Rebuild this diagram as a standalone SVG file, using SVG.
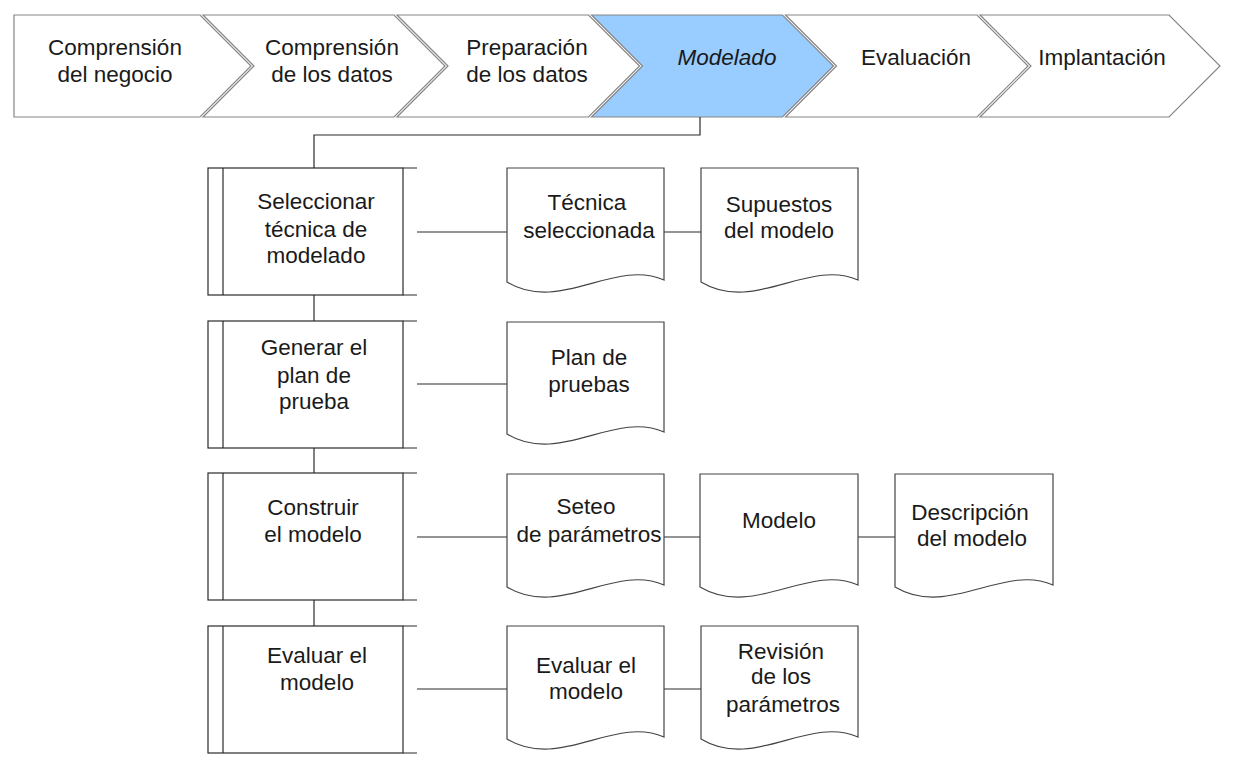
<svg xmlns="http://www.w3.org/2000/svg" width="1238" height="764" viewBox="0 0 1238 764">
<style>
  text { font-family: "Liberation Sans", Arial, sans-serif; font-size: 22.5px; fill: #1a1a1a; text-anchor: middle; }
  .chev { fill: #ffffff; stroke: #858585; stroke-width: 1.2; }
  .chev.active { fill: #99ccff; }
  .proc { fill: #ffffff; stroke: #2a2a2a; stroke-width: 1.2; }
  .doc { fill: #ffffff; stroke: #444444; stroke-width: 1.2; }
  .conn { fill: none; stroke: #2a2a2a; stroke-width: 1.2; }
  .it { font-style: italic; }
</style>
<rect x="0" y="0" width="1238" height="764" fill="#ffffff"/>

<!-- Phase chevrons -->
<g id="phase-comprension-negocio">
  <path class="chev" d="M14,15 H200 L251,66 L200,117 H14 Z"/>
  <text x="115" y="55">Comprensión</text>
  <text x="115" y="82">del negocio</text>
</g>
<g id="phase-comprension-datos">
  <path class="chev" d="M203,15 H394 L445,66 L394,117 H203 L254,66 Z"/>
  <text x="332" y="55">Comprensión</text>
  <text x="332" y="82">de los datos</text>
</g>
<g id="phase-preparacion">
  <path class="chev" d="M397,15 H588.5 L639.5,66 L588.5,117 H397 L448,66 Z"/>
  <text x="527" y="55">Preparación</text>
  <text x="527" y="82">de los datos</text>
</g>
<g id="phase-modelado">
  <path class="chev active" d="M591.5,15 H782.5 L833.5,66 L782.5,117 H591.5 L642.5,66 Z"/>
  <text class="it" x="727" y="65">Modelado</text>
</g>
<g id="phase-evaluacion">
  <path class="chev" d="M785.5,15 H977 L1028,66 L977,117 H785.5 L836.5,66 Z"/>
  <text x="916" y="65">Evaluación</text>
</g>
<g id="phase-implantacion">
  <path class="chev" d="M980,15 H1169 L1220,66 L1169,117 H980 L1031,66 Z"/>
  <text x="1102" y="65">Implantación</text>
</g>

<!-- Connectors -->
<g id="connectors">
  <path class="conn" d="M700,117 V135 H314 V168"/>
  <path class="conn" d="M314,295 V321"/>
  <path class="conn" d="M314,448 V473"/>
  <path class="conn" d="M314,600 V626"/>
  <path class="conn" d="M417,232 H507"/>
  <path class="conn" d="M664,232 H701"/>
  <path class="conn" d="M417,384 H507"/>
  <path class="conn" d="M417,537 H507"/>
  <path class="conn" d="M664,537 H700"/>
  <path class="conn" d="M858,537 H895"/>
  <path class="conn" d="M417,689 H507"/>
  <path class="conn" d="M664,689 H701"/>
</g>

<!-- Tasks (predefined process) -->
<g id="task-seleccionar">
  <rect class="proc" x="208" y="168" width="195" height="127"/>
  <path class="proc" d="M223,168 V295 M403,168 H417 M403,295 H417"/>
  <text x="316" y="209">Seleccionar</text>
  <text x="316" y="237">técnica de</text>
  <text x="316" y="263">modelado</text>
</g>
<g id="task-generar">
  <rect class="proc" x="208" y="321" width="195" height="127"/>
  <path class="proc" d="M223,321 V448 M403,321 H417 M403,448 H417"/>
  <text x="314" y="355">Generar el</text>
  <text x="314" y="383">plan de</text>
  <text x="314" y="409">prueba</text>
</g>
<g id="task-construir">
  <rect class="proc" x="208" y="473" width="195" height="127"/>
  <path class="proc" d="M223,473 V600 M403,473 H417 M403,600 H417"/>
  <text x="313" y="515">Construir</text>
  <text x="313" y="542">el modelo</text>
</g>
<g id="task-evaluar">
  <rect class="proc" x="208" y="626" width="195" height="127"/>
  <path class="proc" d="M223,626 V753 M403,626 H417 M403,753 H417"/>
  <text x="317" y="663">Evaluar el</text>
  <text x="317" y="690">modelo</text>
</g>

<!-- Documents -->
<g id="doc-tecnica">
  <path class="doc" d="M507,168 H664 V280 C614,258 560,314 507,282 Z"/>
  <text x="587" y="210">Técnica</text>
  <text x="589" y="238">seleccionada</text>
</g>
<g id="doc-supuestos">
  <path class="doc" d="M701,168 H858 V280 C808,258 754,314 701,282 Z"/>
  <text x="779" y="212">Supuestos</text>
  <text x="779" y="238">del modelo</text>
</g>
<g id="doc-plan">
  <path class="doc" d="M507,322 H664 V432 C614,410 560,466 507,434 Z"/>
  <text x="589" y="365">Plan de</text>
  <text x="589" y="392">pruebas</text>
</g>
<g id="doc-seteo">
  <path class="doc" d="M507,474 H664 V585 C614,563 560,619 507,587 Z"/>
  <text x="586" y="514">Seteo</text>
  <text x="589" y="542">de parámetros</text>
</g>
<g id="doc-modelo">
  <path class="doc" d="M700,474 H858 V585 C808,563 754,619 700,587 Z"/>
  <text x="779" y="528">Modelo</text>
</g>
<g id="doc-descripcion">
  <path class="doc" d="M895,474 H1053 V585 C1003,563 949,619 895,587 Z"/>
  <text x="970" y="520">Descripción</text>
  <text x="972" y="546">del modelo</text>
</g>
<g id="doc-evaluar">
  <path class="doc" d="M507,626 H664 V737 C614,715 560,771 507,739 Z"/>
  <text x="586" y="673">Evaluar el</text>
  <text x="586" y="699">modelo</text>
</g>
<g id="doc-revision">
  <path class="doc" d="M701,626 H858 V737 C808,715 754,771 701,739 Z"/>
  <text x="781" y="659">Revisión</text>
  <text x="781" y="684">de los</text>
  <text x="783" y="712">parámetros</text>
</g>
</svg>
